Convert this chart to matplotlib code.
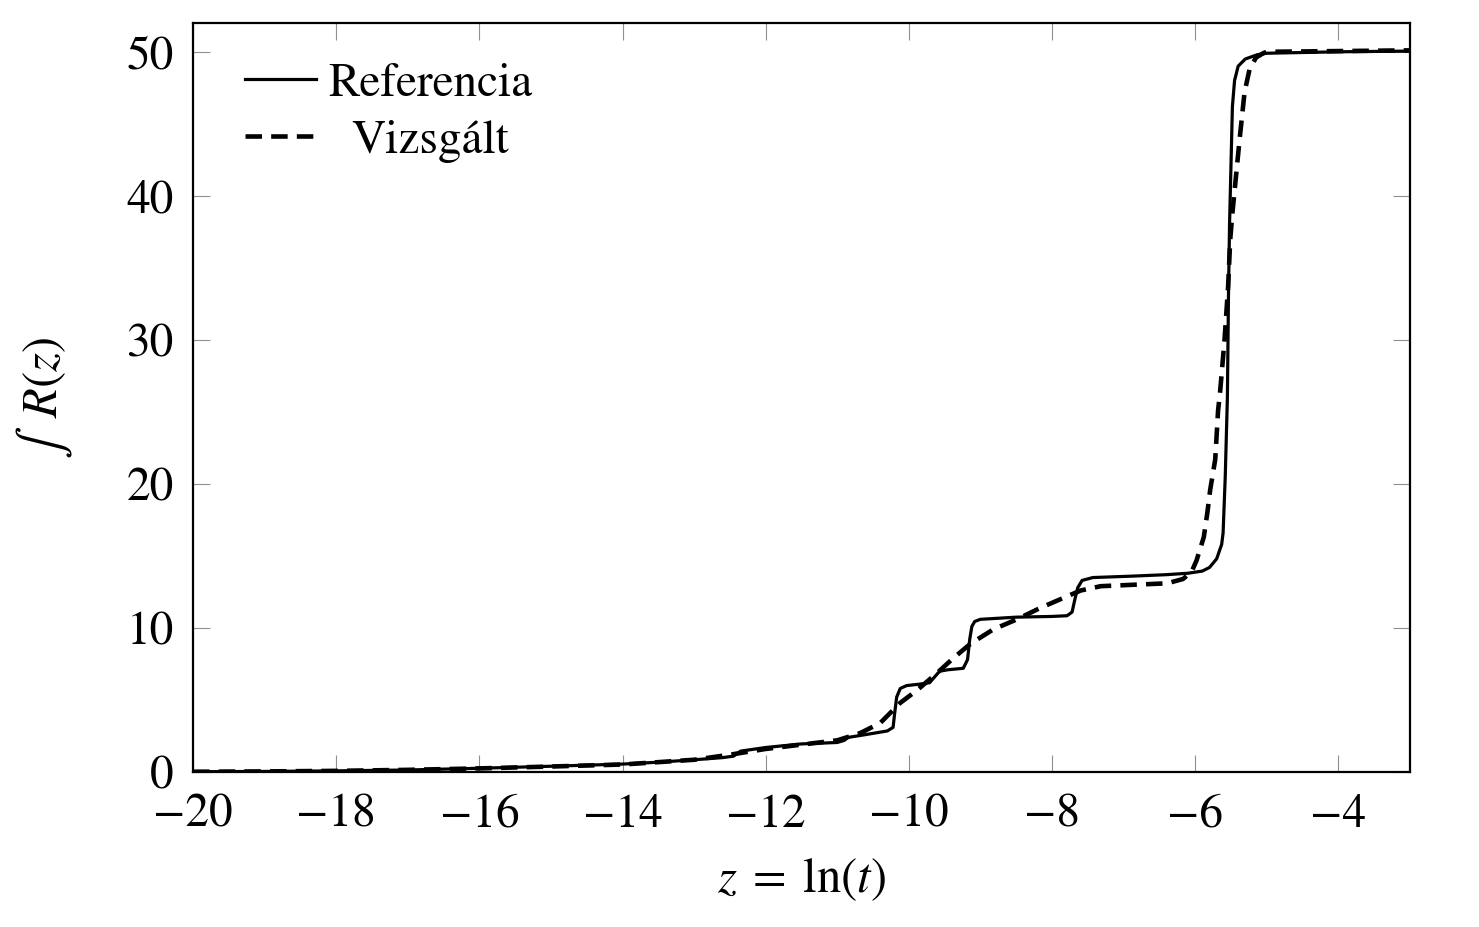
import numpy as np
import matplotlib
matplotlib.use("Agg")
import matplotlib.pyplot as plt

# values
z_ref = [-20, -19, -18, -17, -16, -15, -14, -13.5, -13, -12.6, -12.45, -12.35, -12, -11.5,
         -11.0, -10.9, -10.85, -10.6, -10.3, -10.22, -10.2, -10.17, -10.12, -10.03, -9.85,
         -9.71, -9.64, -9.57, -9.45, -9.24, -9.18, -9.15, -9.12, -9.08, -9.0, -8.5, -8.0,
         -7.79, -7.72, -7.68, -7.64, -7.58, -7.43, -6.87, -6.4, -6.1, -5.9, -5.8, -5.7,
         -5.63, -5.61, -5.58, -5.55, -5.535, -5.52, -5.48, -5.45, -5.40, -5.30, -5.13,
         -5.0, -4.0, -3.0]
r_ref = [0.02, 0.04, 0.08, 0.14, 0.26, 0.40, 0.55, 0.68, 0.85, 1.0, 1.1, 1.45, 1.7, 1.95,
         2.05, 2.2, 2.4, 2.6, 2.85, 3.1, 4.0, 5.2, 5.8, 6.0, 6.1,
         6.2, 6.6, 7.0, 7.1, 7.2, 7.8, 9.2, 10.1, 10.45, 10.6, 10.75, 10.8,
         10.85, 11.1, 12.0, 12.8, 13.3, 13.5, 13.6, 13.7, 13.8, 13.95, 14.2, 14.8,
         15.8, 16.6, 20.5, 26.0, 33.0, 38.0, 46.2, 48.0, 49.0, 49.5, 49.8,
         49.9, 50.0, 50.05]

z_viz = [-20, -19, -18, -17, -16, -15, -14, -13, -12.5, -12, -11.5, -11, -10.68, -10.4,
         -10.12, -9.88, -9.6, -9.38, -9.14, -8.82, -8.49, -8.16, -7.88, -7.6, -7.32, -6.86,
         -6.39, -6.17, -6.05, -5.98, -5.88, -5.83, -5.79, -5.72, -5.68, -5.65, -5.59, -5.54,
         -5.51, -5.48, -5.38, -5.31, -5.24, -5.15, -5.05, -5.0, -3.0]
r_viz = [0.02, 0.04, 0.08, 0.15, 0.25, 0.38, 0.52, 0.85, 1.2, 1.6, 1.9, 2.2, 2.7, 3.4,
         4.8, 5.7, 6.9, 7.9, 8.9, 9.9, 10.6, 11.4, 12.0, 12.6, 12.9, 13.0,
         13.1, 13.4, 13.9, 14.7, 16.3, 18.0, 19.6, 21.7, 25.1, 26.5, 30.0, 33.7,
         37.0, 38.8, 43.9, 47.2, 48.8, 49.6, 49.9, 50.0, 50.1]

xticks = [-20, -18, -16, -14, -12, -10, -8, -6, -4]
yticks = [0, 10, 20, 30, 40, 50]

plt.rcParams['font.family'] = 'STIXGeneral'
plt.rcParams['mathtext.fontset'] = 'stix'
plt.rcParams['axes.unicode_minus'] = True

fig = plt.figure(figsize=(14.79, 9.27), dpi=100)
ax = fig.add_axes([0.1305, 0.1672, 0.8228, 0.808])

ax.plot(z_ref, r_ref, color='k', lw=2.3, label='Referencia')
ax.plot(z_viz, r_viz, color='k', lw=3.3, dashes=(3.6, 2.0), label='Vizsgált')

ax.set_xlim(-20, -3)
ax.set_ylim(0, 52)
ax.set_xticks(xticks)
ax.set_yticks(yticks)
ax.tick_params(direction='in', length=12, width=0.8, color='#909090',
               top=True, right=True, labelsize=34)
ax.tick_params(axis='x', pad=16)
ax.tick_params(axis='y', pad=14)
for s in ax.spines.values():
    s.set_linewidth(1.6)

ax.set_xlabel(r'$z\;=\;\ln(t)$', fontsize=35, labelpad=14)
ax.set_ylabel(r'$\int\;\;R(z)$', fontsize=35, labelpad=37)

leg = ax.legend(loc='upper left', frameon=False, fontsize=34, handlelength=1.5,
                handletextpad=0.25, labelspacing=0.3, borderpad=0, borderaxespad=0,
                bbox_to_anchor=(0.043, 0.947))

# centre the legend labels in their column, as in the reference
fig.canvas.draw()
t1, t2 = leg.get_texts()
w1 = t1.get_window_extent().width
w2 = t2.get_window_extent().width
t2.set_x((w1 - w2) / 2)

fig.savefig('out.png', dpi=100)
